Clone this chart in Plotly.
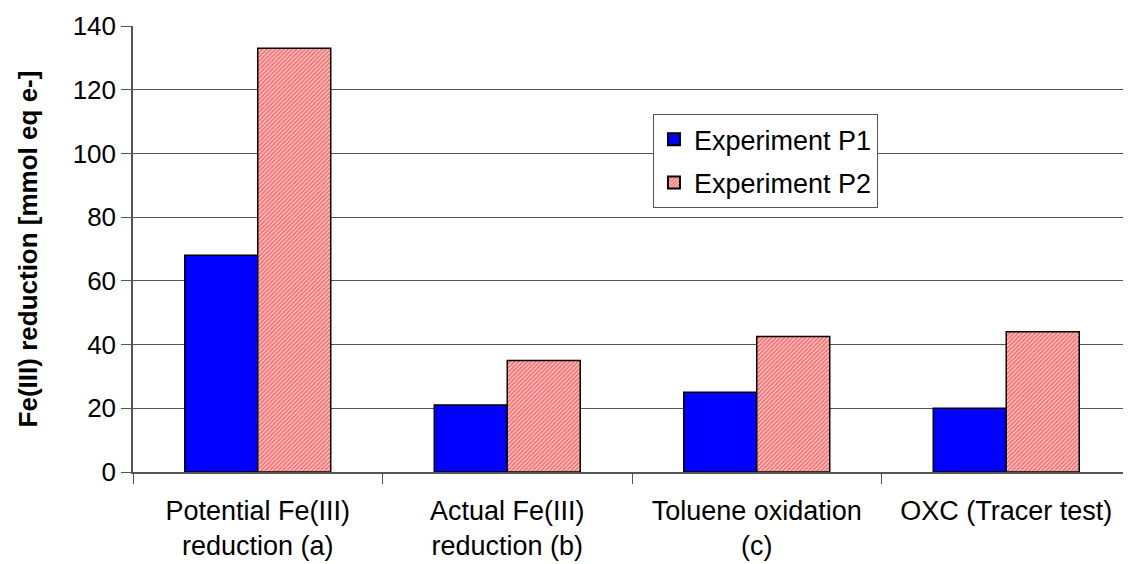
import plotly.graph_objects as go

categories = ["Potential Fe(III)<br>reduction (a)", "Actual Fe(III)<br>reduction (b)",
              "Toluene oxidation<br>(c)", "OXC (Tracer test)"]
p1_values = [68, 21, 25, 20]
p2_values = [133, 35, 42.5, 44]
y_ticks = [0, 20, 40, 60, 80, 100, 120, 140]

font = "Liberation Sans, Arial, sans-serif"

fig = go.Figure()
fig.add_trace(go.Bar(
    x=categories, y=p1_values, name="Experiment P1", legendgroup="p1",
    marker=dict(color="#0000ff", line=dict(color="black", width=1.5)),
))
fig.add_trace(go.Bar(
    x=categories, y=p2_values, name="Experiment P2", legendgroup="p2",
    marker=dict(color="#ffc0c0", line=dict(color="black", width=1.5),
                pattern=dict(shape="/", fgcolor="#ff0000", bgcolor="#ffd0d0",
                             size=3, solidity=0.55, fillmode="overlay")),
))

# page body has an 8px default margin, so the figure is sized to fill the rest
fig.update_layout(
    width=1123, height=556,
    margin=dict(l=125, r=0, t=18, b=92),
    paper_bgcolor="white", plot_bgcolor="white",
    barmode="group", bargap=0.415, bargroupgap=0,
    font=dict(family=font, size=26, color="black"),
    showlegend=True,
    legend=dict(x=0.521, y=0.802, xanchor="left", yanchor="top",
                bgcolor="white", bordercolor="#555555", borderwidth=1,
                font=dict(size=27), itemsizing="constant",
                tracegroupgap=5),
    xaxis=dict(
        type="category", tickson="boundaries", ticks="outside", ticklen=10,
        tickcolor="#555555", showline=True, linecolor="#555555", linewidth=1.5,
        showgrid=False, tickfont=dict(size=27), ticklabelstandoff=14,
    ),
    yaxis=dict(
        range=[0, 140], tickvals=y_ticks, ticks="outside", ticklen=10,
        tickcolor="#555555", showline=True, linecolor="#555555", linewidth=1.5,
        showgrid=True, gridcolor="#555555", gridwidth=1, zeroline=False,
        tickfont=dict(size=26),
        title=dict(text="<b>Fe(III) reduction [mmol eq e-]</b>", font=dict(size=26), standoff=28),
    ),
)

fig.write_html("out.html")
